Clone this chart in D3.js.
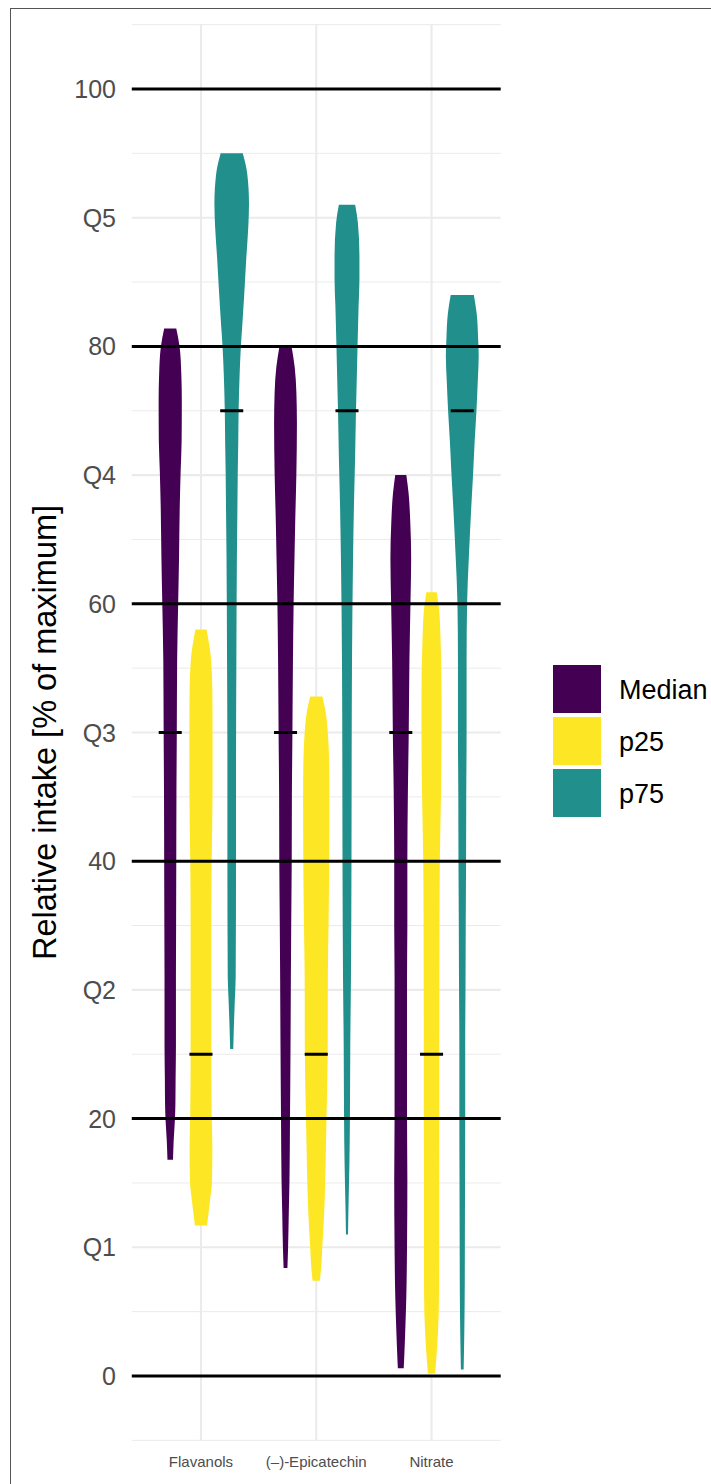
<!DOCTYPE html>
<html>
<head>
<meta charset="utf-8">
<script src="https://cdn.jsdelivr.net/npm/d3@7"></script>
<style>
  html, body { margin: 0; padding: 0; background: #fff; }
  svg { display: block; font-family: "Liberation Sans", Arial, Helvetica, sans-serif; }
</style>
</head>
<body>
<svg id="chart" width="711" height="1484"></svg>
<script>
// ---------- data ----------
const categories = ["Flavanols", "(\u2013)-Epicatechin", "Nitrate"];
const series = ["Median", "p25", "p75"];
const seriesColors = ["#440154", "#FDE725", "#21908C"];
const yTicks = [0, 10, 20, 30, 40, 50, 60, 70, 80, 90, 100];
const yTickLabels = ["0", "Q1", "20", "Q2", "40", "Q3", "60", "Q4", "80", "Q5", "100"];
const yMinor = [-5, 5, 15, 25, 35, 45, 55, 65, 75, 85, 95, 105];
const refLines = [0, 20, 40, 60, 80, 100];
const quantileMarks = [50, 25, 75]; // per series: Median, p25, p75

// violin profiles: [value, relative density width]
const flavanolsMedian = [[81.4,0.35],[80,0.54],[77.9,0.64],[75.8,0.67],[72.7,0.66],[70.2,0.60],[67.5,0.55],[63.6,0.51],[60.1,0.46],[55.6,0.40],[50,0.38],[45.3,0.36],[40.1,0.35],[34.9,0.34],[30.8,0.33],[25.6,0.33],[23,0.31],[21.2,0.30],[19.9,0.27],[18.3,0.20],[16.8,0.16]];
const flavanolsP25 = [[58.0,0.32],[56.9,0.47],[55.6,0.59],[53.1,0.66],[50,0.67],[45.3,0.67],[40.1,0.62],[34.9,0.60],[30.8,0.60],[25,0.60],[20.4,0.62],[17.8,0.66],[15.2,0.64],[13.7,0.53],[11.7,0.35]];
const flavanolsP75 = [[95.0,0.64],[93.4,0.90],[91.1,1.00],[89.3,0.96],[87,0.85],[84.4,0.74],[81.8,0.62],[80,0.53],[77.9,0.46],[75,0.40],[72.7,0.38],[70.2,0.35],[67.5,0.33],[63.6,0.30],[55.6,0.27],[47.9,0.25],[40.1,0.25],[31,0.23],[29.2,0.18],[27.7,0.14],[26.4,0.11],[25.4,0.09]];
const epicatechinMedian = [[80,0.35],[78.4,0.53],[76.4,0.63],[74,0.66],[70.2,0.63],[66.3,0.56],[63.6,0.52],[60.1,0.47],[55.6,0.43],[50,0.40],[45.3,0.37],[40.1,0.36],[34.9,0.33],[30.9,0.31],[25.6,0.29],[20,0.26],[15.2,0.23],[12.7,0.19],[10,0.15],[8.4,0.11]];
const epicatechinP25 = [[52.8,0.35],[51.7,0.53],[50,0.67],[47.9,0.74],[45.3,0.76],[40.1,0.75],[34.9,0.71],[31,0.67],[25,0.66],[20.4,0.60],[17.8,0.56],[15.2,0.52],[12.7,0.46],[10,0.35],[8.5,0.29],[7.4,0.21]];
const epicatechinP75 = [[91,0.47],[89.6,0.63],[87,0.72],[85.2,0.72],[83.1,0.67],[80,0.61],[76.6,0.55],[75,0.52],[71.4,0.47],[67.5,0.40],[63.5,0.35],[55.6,0.29],[47.9,0.27],[40.1,0.26],[31,0.23],[25.6,0.19],[20,0.17],[16.5,0.14],[12.7,0.08],[11,0.06]];
const nitrateMedian = [[70.0,0.32],[68.6,0.45],[66.3,0.55],[63.5,0.60],[60.1,0.56],[55.6,0.50],[50,0.46],[45.3,0.41],[40.1,0.38],[34.9,0.38],[31,0.36],[25.6,0.36],[20,0.36],[15.2,0.38],[10,0.36],[6.2,0.32],[3.6,0.26],[1.8,0.21],[0.6,0.17]];
const nitrateP25 = [[60.9,0.30],[59.5,0.44],[56.9,0.53],[53.1,0.58],[50,0.58],[45.3,0.55],[40.1,0.48],[34.9,0.46],[25,0.45],[20,0.45],[15.2,0.44],[10,0.44],[6.2,0.43],[3.6,0.38],[1.8,0.30],[0.2,0.21]];
const nitrateP75 = [[84,0.67],[82.6,0.83],[80.5,0.92],[79.2,0.95],[77.4,0.90],[75,0.82],[72.7,0.72],[70.2,0.63],[67.5,0.52],[63.6,0.38],[60.1,0.28],[55.6,0.25],[50,0.25],[45.3,0.23],[40.1,0.22],[34.9,0.20],[30.9,0.19],[25.6,0.17],[20,0.17],[15.2,0.16],[10,0.15],[6.2,0.14],[3.6,0.12],[0.5,0.08]];

const violins = [
  {cat: 0, ser: 0, prof: flavanolsMedian},
  {cat: 0, ser: 1, prof: flavanolsP25},
  {cat: 0, ser: 2, prof: flavanolsP75},
  {cat: 1, ser: 0, prof: epicatechinMedian},
  {cat: 1, ser: 1, prof: epicatechinP25},
  {cat: 1, ser: 2, prof: epicatechinP75},
  {cat: 2, ser: 0, prof: nitrateMedian},
  {cat: 2, ser: 1, prof: nitrateP25},
  {cat: 2, ser: 2, prof: nitrateP75}
];

// ---------- layout ----------
const panel = {left: 131.8, right: 500.7, top: 24.65, bottom: 1440.35};
const svg = d3.select("#chart");

const x = d3.scaleLinear().domain([0.4, 3.6]).range([panel.left, panel.right]);
const y = d3.scaleLinear().domain([-5, 105]).range([panel.bottom, panel.top]);
const dodge = 0.8 / 3;          // slot width in category units
const maxViolin = 0.3;          // density 1 -> this many category units wide
const markWidth = 0.2;          // quantile mark width in category units
const catX = (c, s) => x(c + 1 + (s - 1) * dodge);
const unitPx = x(maxViolin) - x(0);

// outer frame
svg.append("rect").attr("x", 10.5).attr("y", 8.5).attr("width", 800).attr("height", 1600)
  .attr("fill", "none").attr("stroke", "#555").attr("stroke-width", 1);

// gridlines
const grid = svg.append("g");
grid.selectAll("line.minor").data(yMinor).join("line")
  .attr("x1", panel.left).attr("x2", panel.right)
  .attr("y1", d => y(d)).attr("y2", d => y(d))
  .attr("stroke", "#EBEBEB").attr("stroke-width", 1);
grid.selectAll("line.major").data(yTicks).join("line")
  .attr("x1", panel.left).attr("x2", panel.right)
  .attr("y1", d => y(d)).attr("y2", d => y(d))
  .attr("stroke", "#EBEBEB").attr("stroke-width", 2.1);
grid.selectAll("line.vert").data(categories).join("line")
  .attr("x1", (d, i) => x(i + 1)).attr("x2", (d, i) => x(i + 1))
  .attr("y1", panel.top).attr("y2", panel.bottom)
  .attr("stroke", "#EBEBEB").attr("stroke-width", 2.1);

// violins
const area = d3.area()
  .y(d => y(d[0]))
  .curve(d3.curveMonotoneY);
svg.append("g").selectAll("path").data(violins).join("path")
  .attr("d", v => {
    const cx = catX(v.cat, v.ser);
    const pts = v.prof.slice().sort((a, b) => a[0] - b[0]);
    return area.x0(d => cx - d[1] * unitPx / 2).x1(d => cx + d[1] * unitPx / 2)(pts);
  })
  .attr("fill", v => seriesColors[v.ser]);

// reference lines
svg.append("g").selectAll("line").data(refLines).join("line")
  .attr("x1", panel.left).attr("x2", panel.right)
  .attr("y1", d => y(d)).attr("y2", d => y(d))
  .attr("stroke", "#000").attr("stroke-width", 3);

// quantile marks
svg.append("g").selectAll("line").data(violins).join("line")
  .attr("x1", v => catX(v.cat, v.ser) - (x(markWidth) - x(0)) / 2)
  .attr("x2", v => catX(v.cat, v.ser) + (x(markWidth) - x(0)) / 2)
  .attr("y1", v => y(quantileMarks[v.ser])).attr("y2", v => y(quantileMarks[v.ser]))
  .attr("stroke", "#000").attr("stroke-width", 3);

// y tick labels
svg.append("g").selectAll("text").data(yTicks).join("text")
  .attr("x", 116).attr("y", d => y(d)).attr("dy", "0.36em")
  .attr("text-anchor", "end").attr("font-size", 25).attr("fill", "#4D4D4D")
  .text((d, i) => yTickLabels[i]);

// x tick labels
svg.append("g").selectAll("text").data(categories).join("text")
  .attr("x", (d, i) => x(i + 1)).attr("y", 1467)
  .attr("text-anchor", "middle").attr("font-size", 15).attr("fill", "#4D4D4D")
  .text(d => d);

// y axis title
svg.append("text")
  .attr("transform", `translate(56,${(panel.top + panel.bottom) / 2}) rotate(-90)`)
  .attr("text-anchor", "middle").attr("font-size", 32.5).attr("fill", "#000")
  .text("Relative intake [% of maximum]");

// legend
const legend = svg.append("g");
series.forEach((s, i) => {
  legend.append("rect").attr("x", 553).attr("y", 665 + i * 52)
    .attr("width", 48).attr("height", 48).attr("fill", seriesColors[i]);
  legend.append("text").attr("x", 619).attr("y", 665 + i * 52 + 24).attr("dy", "0.36em")
    .attr("font-size", 27).attr("fill", "#000").text(s);
});
</script>
</body>
</html>
